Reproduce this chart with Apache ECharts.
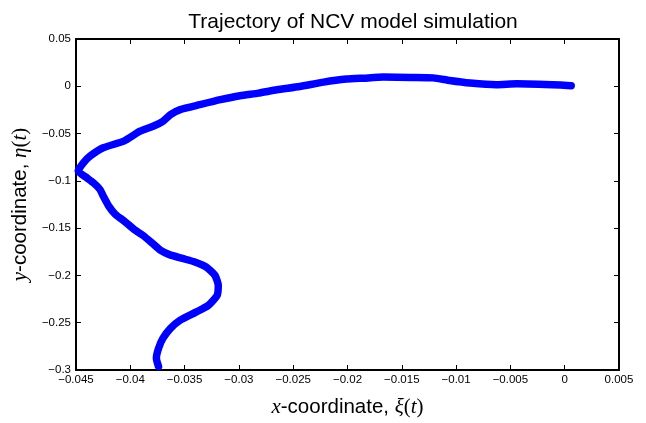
<!DOCTYPE html>
<html>
<head>
<meta charset="utf-8">
<script src="https://cdn.jsdelivr.net/npm/echarts@6/dist/echarts.min.js"></script>
<style>
  html, body { margin: 0; padding: 0; background: #ffffff; }
  #chart { width: 646px; height: 423px; }
</style>
</head>
<body>
<div id="chart"></div>
<script>
// Simulated NCV (nearly constant velocity) trajectory: x = xi(t), y = eta(t)
var trajX = [
  0.0006, -0.0004, -0.0044, -0.0063, -0.0087, -0.0106, -0.0121, -0.0142, -0.0167, -0.0185,
  -0.0201, -0.0222, -0.0244, -0.0265, -0.0282, -0.0299, -0.0317, -0.0336, -0.0354, -0.0363,
  -0.0370, -0.0379, -0.0391, -0.0406, -0.0425, -0.0437, -0.0443, -0.0448, -0.0441, -0.0434,
  -0.0428, -0.0425, -0.0420, -0.0414, -0.0406, -0.0397, -0.0388, -0.0379, -0.0372, -0.0364,
  -0.0352, -0.0340, -0.0330, -0.0322, -0.0319, -0.0320, -0.0328, -0.0339, -0.0354, -0.0363,
  -0.0370, -0.0374, -0.0376, -0.0374
];
var trajY = [
  0.0005, 0.0013, 0.0026, 0.0016, 0.0034, 0.0061, 0.0089, 0.0093, 0.0097, 0.0086,
  0.0076, 0.0044, -0.0002, -0.0037, -0.0072, -0.0100, -0.0142, -0.0195, -0.0247, -0.0300,
  -0.0370, -0.0423, -0.0475, -0.0580, -0.0650, -0.0738, -0.0808, -0.0896, -0.0960, -0.1020,
  -0.1090, -0.1159, -0.1264, -0.1351, -0.1422, -0.1509, -0.1579, -0.1667, -0.1735, -0.1780,
  -0.1820, -0.1860, -0.1912, -0.2000, -0.2105, -0.2210, -0.2315, -0.2385, -0.2473, -0.2560,
  -0.2666, -0.2771, -0.2876, -0.2963
];

var xTickLabels = ['\u22120.045', '\u22120.04', '\u22120.035', '\u22120.03', '\u22120.025', '\u22120.02',
                   '\u22120.015', '\u22120.01', '\u22120.005', '0', '0.005'];
var yTickLabels = ['\u22120.3', '\u22120.25', '\u22120.2', '\u22120.15', '\u22120.1', '\u22120.05', '0', '0.05'];

var X_MIN = -0.045, X_MAX = 0.005, X_STEP = 0.005;
var Y_MIN = -0.3, Y_MAX = 0.05, Y_STEP = 0.05;

var points = trajX.map(function (x, i) { return [x, trajY[i]]; });

var SANS = '"Liberation Sans", Arial, Helvetica, sans-serif';
var SERIF = '"Liberation Serif", "DejaVu Serif", serif';

function tickLabel(list, min, step) {
  return function (v) {
    var i = Math.round((v - min) / step);
    return list[i] !== undefined ? list[i] : '';
  };
}

var frameLine = { show: true, onZero: false, lineStyle: { color: '#000', width: 2 } };
var frameTick = { show: true, inside: true, length: 5, lineStyle: { color: '#000', width: 1 } };
var nameRich = {
  i: { fontFamily: SERIF, fontStyle: 'italic', fontSize: 21, color: '#000' },
  s: { fontFamily: SERIF, fontSize: 21, color: '#000' }
};

var chart = echarts.init(document.getElementById('chart'), null, { renderer: 'canvas' });
chart.setOption({
  animation: false,
  backgroundColor: '#ffffff',
  title: {
    text: 'Trajectory of NCV model simulation',
    left: 348, top: 7, textAlign: 'center',
    textStyle: { fontFamily: SANS, fontWeight: 'normal', fontSize: 21, color: '#000' }
  },
  grid: { left: 76, right: 27, top: 39, bottom: 50 },
  xAxis: [
    {
      type: 'value', min: X_MIN, max: X_MAX, interval: X_STEP, position: 'bottom',
      axisLine: frameLine, axisTick: frameTick, splitLine: { show: false },
      axisLabel: { margin: 4, color: '#000', fontFamily: SANS, fontSize: 11.5,
                   formatter: tickLabel(xTickLabels, X_MIN, X_STEP) },
      name: '{i|x}-coordinate, {i|\u03BE}{s|(}{i|t}{s|)}',
      nameLocation: 'middle', nameGap: 27,
      nameTextStyle: { fontFamily: SANS, fontSize: 20.5, color: '#000', rich: nameRich }
    },
    {
      type: 'value', min: X_MIN, max: X_MAX, interval: X_STEP, position: 'top',
      axisLine: frameLine, axisTick: frameTick, axisLabel: { show: false }, splitLine: { show: false }
    }
  ],
  yAxis: [
    {
      type: 'value', min: Y_MIN, max: Y_MAX, interval: Y_STEP, position: 'left',
      axisLine: frameLine, axisTick: frameTick, splitLine: { show: false },
      axisLabel: { margin: 5, color: '#000', fontFamily: SANS, fontSize: 11.5,
                   formatter: tickLabel(yTickLabels, Y_MIN, Y_STEP) },
      name: '{i|y}-coordinate, {i|\u03B7}{s|(}{i|t}{s|)}',
      nameLocation: 'middle', nameGap: 31, nameRotate: 90,
      nameTextStyle: { fontFamily: SANS, fontSize: 20.5, color: '#000', rich: nameRich }
    },
    {
      type: 'value', min: Y_MIN, max: Y_MAX, interval: Y_STEP, position: 'right',
      axisLine: frameLine, axisTick: frameTick, axisLabel: { show: false }, splitLine: { show: false }
    }
  ],
  series: [{
    type: 'line',
    data: points,
    xAxisIndex: 0, yAxisIndex: 0,
    showSymbol: false, symbol: 'none',
    smooth: 0.18,
    clip: true,
    lineStyle: { color: '#0000ff', width: 7.5, cap: 'round', join: 'round' }
  }]
});
</script>
</body>
</html>
